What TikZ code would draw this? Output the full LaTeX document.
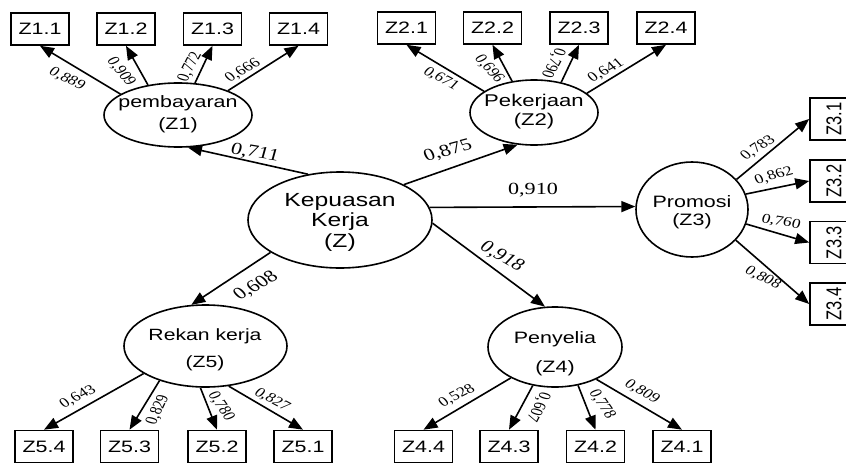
\documentclass[tikz,border=0pt]{standalone}
\usepackage{fontspec}
\usepackage{graphicx}
\setmainfont{Liberation Sans}
\newfontfamily\numfont{Liberation Serif}
\usetikzlibrary{shapes.geometric,arrows.meta}
% wide lettering for horizontal text, and for text turned upright
\newcommand\wx[1]{\scalebox{1.3}[1]{#1}}
\newcommand\vx[1]{\rotatebox{90}{\scalebox{1}[1.3]{#1}}}

\begin{document}
\begin{tikzpicture}[x=1pt,y=-1pt,
  lv/.style={draw, ellipse, line width=1.6pt, inner sep=0pt},
  mv/.style={draw, rectangle, line width=1.6pt, minimum width=58pt,
    minimum height=32pt, inner sep=0pt, font=\fontsize{16.5}{18}\selectfont},
  mvr/.style={mv, minimum width=48pt, minimum height=42pt},
  conn/.style={line width=1.6pt, -{Triangle[length=14pt,width=11pt]}},
  lvtext/.style={transform shape, align=center, inner sep=0pt},
  coef/.style={transform shape, inner sep=0pt, font=\numfont\fontsize{13.5}{15}\selectfont},
  bigcoef/.style={transform shape, inner sep=0pt, font=\numfont\fontsize{17}{19}\selectfont}]

\useasboundingbox (0,0) rectangle (846,463);
\fill[white] (0,0) rectangle (846,463);

% latent variables
\node[lv, minimum width=184pt, minimum height=96pt] (K) at (340,220) {};
\node[lv, minimum width=148pt, minimum height=64pt] (P1) at (178,115) {};
\node[lv, minimum width=128pt, minimum height=65pt] (P2) at (534,112.5) {};
\node[lv, minimum width=112pt, minimum height=95pt] (P3) at (692,209.5) {};
\node[lv, minimum width=134pt, minimum height=80pt] (P4) at (555,347) {};
\node[lv, minimum width=163pt, minimum height=82pt] (P5) at (205.5,346) {};

% indicators
\node[mv] (Z11) at (40,29) {\wx{Z1.1}};
\node[mv] (Z12) at (126,29) {\wx{Z1.2}};
\node[mv] (Z13) at (212.5,29) {\wx{Z1.3}};
\node[mv] (Z14) at (298.5,29) {\wx{Z1.4}};

\node[mv] (Z21) at (406.5,28) {\wx{Z2.1}};
\node[mv] (Z22) at (492.5,28) {\wx{Z2.2}};
\node[mv] (Z23) at (579,28) {\wx{Z2.3}};
\node[mv] (Z24) at (666,28) {\wx{Z2.4}};

\node[mvr] (Z31) at (834,119) {\vx{Z3.1}};
\node[mvr] (Z32) at (834,181) {\vx{Z3.2}};
\node[mvr] (Z33) at (834,242.5) {\vx{Z3.3}};
\node[mvr] (Z34) at (834,304) {\vx{Z3.4}};

\node[mv] (Z44) at (423.5,446.5) {\wx{Z4.4}};
\node[mv] (Z43) at (509,446.5) {\wx{Z4.3}};
\node[mv] (Z42) at (595.5,446.5) {\wx{Z4.2}};
\node[mv] (Z41) at (682,446.5) {\wx{Z4.1}};

\node[mv] (Z54) at (44,446.5) {\wx{Z5.4}};
\node[mv] (Z53) at (129.5,446.5) {\wx{Z5.3}};
\node[mv] (Z52) at (217,446.5) {\wx{Z5.2}};
\node[mv] (Z51) at (303,446.5) {\wx{Z5.1}};

% structural paths
\draw[conn] (K.125) -- (P1.-73);
\draw[conn] (K.29.6) -- (P2.-117);
\draw[conn] (K.8.5) -- (P3.177);
\draw[conn] (K.-2) -- (P4.104);
\draw[conn] (K.205) -- (P5.109);

% loadings
\draw[conn] (P1.160.7) -- (Z11.south);
\draw[conn] (P1.135) -- (Z12.south);
\draw[conn] (P1.62.7) -- (Z13.south);
\draw[conn] (P1.26.6) -- (Z14.south);

\draw[conn] (P2.157.6) -- (Z21.south);
\draw[conn] (P2.125) -- (Z22.south);
\draw[conn] (P2.48) -- (Z23.south);
\draw[conn] (P2.20.7) -- (Z24.south);

\draw[conn] (P3.34.4) -- (Z31.west);
\draw[conn] (P3.16.7) -- (Z32.west);
\draw[conn] (P3.-15.7) -- (Z33.west);
\draw[conn] (P3.-35.4) -- (Z34.west);

\draw[conn] (P4.215.8) -- (Z44.north);
\draw[conn] (P4.240) -- (Z43.north);
\draw[conn] (P4.-59.3) -- (Z42.north);
\draw[conn] (P4.-38.8) -- (Z41.north);

\draw[conn] (P5.204) -- (Z54.north);
\draw[conn] (P5.217) -- (Z53.north);
\draw[conn] (P5.263) -- (Z52.north);
\draw[conn] (P5.-60) -- (Z51.north);

% all lettering below is set 1.3 times wider than tall
\begin{scope}[xscale=1.3]
  \node[lvtext, font=\fontsize{19}{20.5}\selectfont] (Kt) at ({340/1.3},222) {Kepuasan\\Kerja\\(Z)};
  \node[lvtext, font=\fontsize{16.5}{22}\selectfont] (P1t) at ({178/1.3},114) {pembayaran\\(Z1)};
  \node[lvtext, font=\fontsize{17}{19}\selectfont] (P2t) at ({534/1.3},112) {Pekerjaan\\(Z2)};
  \node[lvtext, font=\fontsize{16.5}{18.5}\selectfont] (P3t) at ({692/1.3},212) {Promosi\\(Z3)};
  \node[lvtext, font=\fontsize{16.5}{29}\selectfont] (P4t) at ({555/1.3},353.5) {Penyelia\\(Z4)};
  \node[lvtext, font=\fontsize{16.3}{27}\selectfont] (P5t) at ({205/1.3},349.5) {Rekan kerja\\(Z5)};

  \node[bigcoef, rotate=-12] (c1) at ({255/1.3},153) {0,711};
  \node[bigcoef, rotate=19] (c2) at ({448/1.3},151) {0,875};
  \node[bigcoef] (c3) at ({533/1.3},190) {0,910};
  \node[bigcoef, rotate=-37] (c4) at ({502/1.3},257) {0,918};
  \node[bigcoef, rotate=37] (c5) at ({256/1.3},286) {0,608};

  \node[coef, rotate=-33] (l11) at ({67/1.3},79) {0,889};
  \node[coef, rotate=-58] (l12) at ({121/1.3},72) {0,909};
  \node[coef, rotate=68] (l13) at ({190/1.3},67) {0,772};
  \node[coef, rotate=37] (l14) at ({243/1.3},71) {0,666};

  \node[coef, rotate=-35] (l21) at ({441/1.3},79) {0,671};
  \node[coef, rotate=-55] (l22) at ({489/1.3},69) {0,696};
  \node[coef, rotate=-112] (l23) at ({553/1.3},63) {0,790};
  \node[coef, rotate=35] (l24) at ({606/1.3},71) {0,641};

  \node[coef, rotate=40] (l31) at ({758/1.3},148) {0,783};
  \node[coef, rotate=20] (l32) at ({774/1.3},176) {0,862};
  \node[coef, rotate=-12] (l33) at ({781/1.3},222) {0,760};
  \node[coef, rotate=-32] (l34) at ({763/1.3},278) {0,808};

  \node[coef, rotate=33] (l44) at ({457/1.3},396) {0,528};
  \node[coef, rotate=-112] (l43) at ({538/1.3},407) {0,607};
  \node[coef, rotate=-62] (l42) at ({602/1.3},404) {0,778};
  \node[coef, rotate=-37] (l41) at ({642/1.3},392) {0,809};

  \node[coef, rotate=33] (l54) at ({78/1.3},397) {0,643};
  \node[coef, rotate=70] (l53) at ({158/1.3},410) {0,829};
  \node[coef, rotate=-62] (l52) at ({221/1.3},406) {0,780};
  \node[coef, rotate=-35] (l51) at ({272/1.3},400) {0,827};
\end{scope}
\end{tikzpicture}
\end{document}
